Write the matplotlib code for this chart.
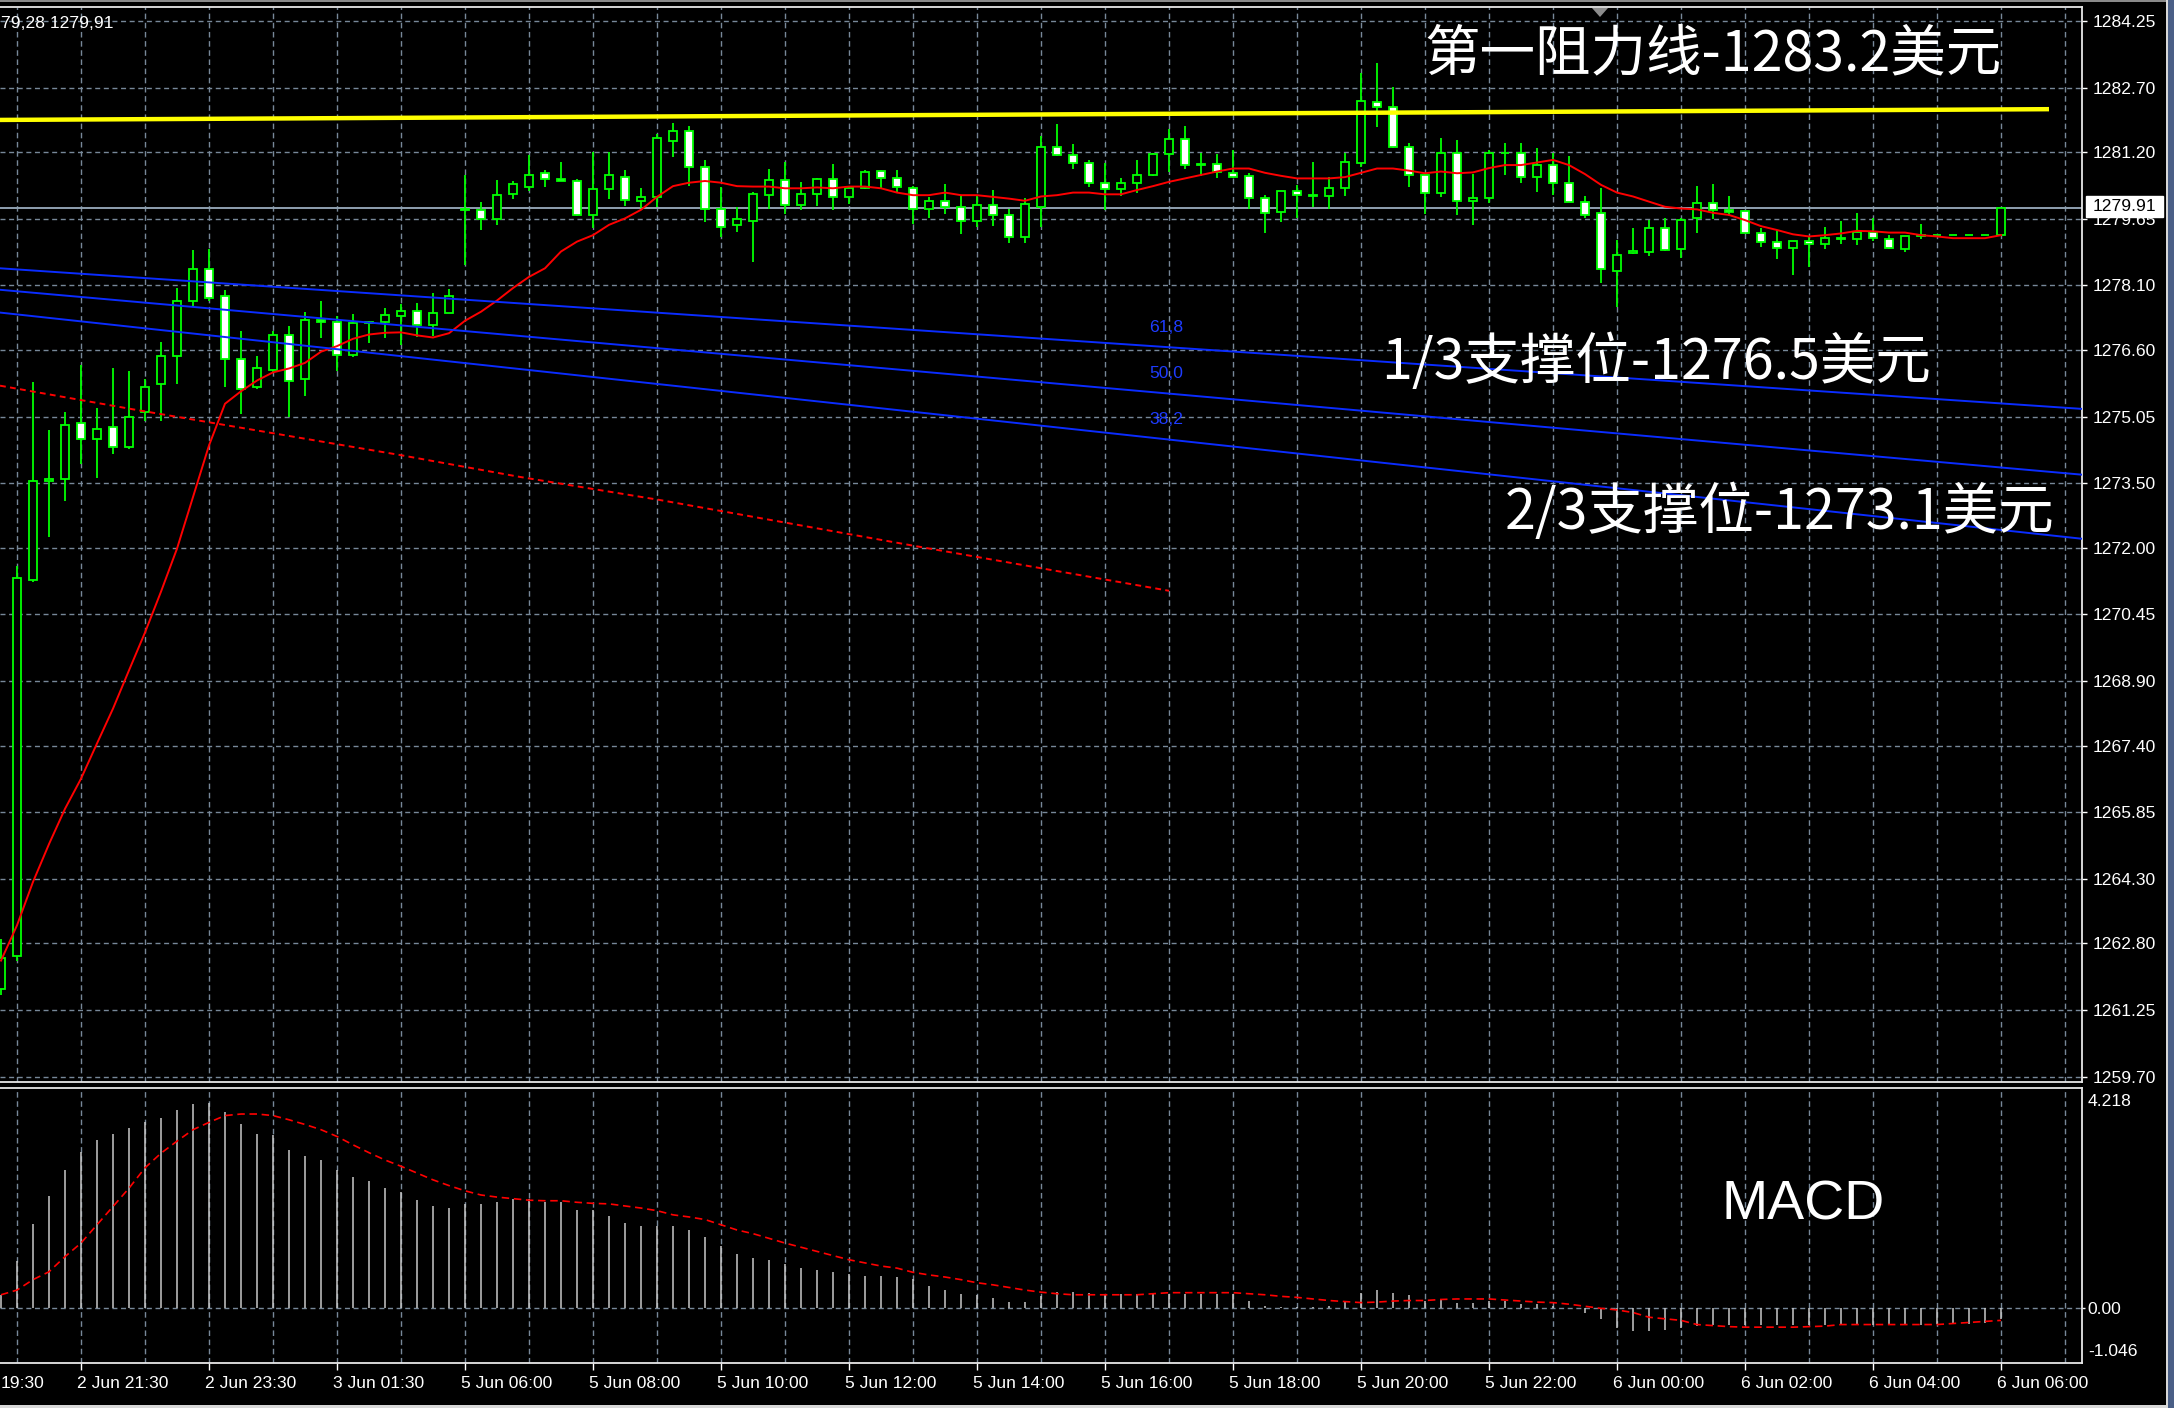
import matplotlib
matplotlib.use('Agg')
import matplotlib.pyplot as plt
from matplotlib.patches import Rectangle, Polygon
from matplotlib.transforms import blended_transform_factory

W, H, DPI = 2174, 1408, 100

# ---------------- data ----------------
bar_index = list(range(-1, 125))
opens = [1261.73, 1262.50, 1271.26, 1273.55, 1273.60, 1274.91, 1274.53, 1274.81, 1274.34, 1275.16,
         1275.80, 1276.45, 1277.73, 1278.49, 1277.85, 1276.40, 1275.73, 1276.14, 1276.96, 1275.93,
         1277.30, 1277.24, 1276.48, 1277.22, 1277.24, 1277.38, 1277.51, 1277.17, 1277.47, 1279.85,
         1279.86, 1279.65, 1280.22, 1280.40, 1280.72, 1280.58, 1280.54, 1279.74, 1280.35, 1280.63,
         1280.07, 1280.15, 1281.46, 1281.70, 1280.86, 1279.88, 1279.51, 1279.61, 1280.20, 1280.55,
         1279.97, 1280.22, 1280.58, 1280.15, 1280.36, 1280.77, 1280.61, 1280.36, 1279.87, 1280.07,
         1279.93, 1279.61, 1279.97, 1279.74, 1279.23, 1279.93, 1281.33, 1281.13, 1280.94, 1280.49,
         1280.34, 1280.49, 1280.67, 1281.15, 1281.51, 1280.90, 1280.92, 1280.71, 1280.65, 1280.13,
         1279.82, 1280.29, 1280.21, 1280.17, 1280.36, 1280.95, 1282.37, 1282.24, 1281.31, 1280.67,
         1280.24, 1281.19, 1280.07, 1280.13, 1281.19, 1281.17, 1280.63, 1280.90, 1280.48, 1280.03,
         1279.79, 1278.44, 1278.85, 1278.89, 1279.43, 1278.94, 1279.66, 1280.01, 1279.85, 1279.83,
         1279.33, 1279.10, 1278.97, 1279.14, 1279.06, 1279.20, 1279.18, 1279.35, 1279.18, 1278.95,
         1279.24, 1279.28, 1279.28, 1279.28, 1279.28, 1279.28]
highs = [1262.91, 1271.57, 1275.85, 1274.73, 1275.16, 1276.24, 1275.24, 1276.17, 1276.12, 1275.93,
         1276.78, 1278.04, 1278.93, 1278.95, 1278.00, 1277.05, 1276.46, 1277.05, 1277.15, 1277.49,
         1277.75, 1277.38, 1277.43, 1277.27, 1277.57, 1277.66, 1277.69, 1277.93, 1278.02, 1280.67,
         1280.03, 1280.56, 1280.53, 1281.13, 1280.79, 1280.98, 1280.58, 1281.21, 1281.20, 1280.79,
         1280.36, 1281.62, 1281.89, 1281.81, 1281.01, 1280.40, 1279.92, 1280.27, 1280.82, 1280.96,
         1280.51, 1280.60, 1280.92, 1280.38, 1280.79, 1280.79, 1280.79, 1280.41, 1280.16, 1280.45,
         1280.19, 1280.20, 1280.32, 1279.89, 1280.13, 1281.58, 1281.86, 1281.39, 1281.02, 1280.94,
         1280.59, 1281.02, 1281.19, 1281.73, 1281.81, 1281.19, 1281.16, 1281.24, 1280.72, 1280.20,
         1280.30, 1280.44, 1280.96, 1280.63, 1281.19, 1283.05, 1283.28, 1282.72, 1281.42, 1280.70,
         1281.52, 1281.48, 1280.69, 1281.25, 1281.42, 1281.42, 1281.29, 1281.17, 1281.10, 1280.18,
         1280.36, 1279.16, 1279.43, 1279.62, 1279.66, 1279.66, 1280.41, 1280.46, 1280.18, 1279.85,
         1279.43, 1279.39, 1279.14, 1279.22, 1279.47, 1279.61, 1279.79, 1279.66, 1279.27, 1279.24,
         1279.53, 1279.28, 1279.28, 1279.28, 1279.28, 1279.91]
lows = [1261.60, 1262.40, 1271.20, 1272.24, 1273.08, 1273.94, 1273.62, 1274.19, 1274.30, 1274.95,
        1274.95, 1275.82, 1277.60, 1277.75, 1275.73, 1275.11, 1275.69, 1276.08, 1275.05, 1275.54,
        1276.89, 1276.10, 1276.43, 1276.76, 1276.88, 1276.71, 1276.90, 1276.93, 1277.45, 1278.58,
        1279.40, 1279.51, 1280.12, 1280.30, 1280.38, 1280.53, 1279.72, 1279.44, 1280.10, 1279.95,
        1279.91, 1279.93, 1281.08, 1280.42, 1279.58, 1279.23, 1279.35, 1278.65, 1279.87, 1279.76,
        1279.85, 1279.95, 1279.85, 1279.99, 1280.34, 1280.36, 1280.28, 1279.53, 1279.68, 1279.76,
        1279.30, 1279.45, 1279.49, 1279.08, 1279.08, 1279.47, 1281.10, 1280.80, 1280.38, 1279.85,
        1280.17, 1280.24, 1280.64, 1280.75, 1280.80, 1280.65, 1280.61, 1280.60, 1279.87, 1279.31,
        1279.58, 1279.66, 1279.93, 1279.87, 1280.18, 1280.85, 1281.78, 1281.30, 1280.40, 1279.76,
        1280.15, 1279.74, 1279.51, 1280.01, 1280.67, 1280.48, 1280.28, 1280.21, 1280.03, 1279.66,
        1278.15, 1277.61, 1278.84, 1278.79, 1278.90, 1278.73, 1279.31, 1279.64, 1279.71, 1279.31,
        1278.99, 1278.71, 1278.34, 1278.54, 1278.94, 1279.06, 1279.04, 1279.14, 1278.94, 1278.89,
        1279.17, 1279.28, 1279.28, 1279.28, 1279.28, 1279.28]
closes = [1262.47, 1271.29, 1273.56, 1273.60, 1274.86, 1274.53, 1274.76, 1274.34, 1275.03, 1275.74,
          1276.45, 1277.73, 1278.49, 1277.80, 1276.40, 1275.70, 1276.17, 1276.96, 1275.89, 1277.30,
          1277.24, 1276.48, 1277.22, 1277.24, 1277.42, 1277.51, 1277.17, 1277.47, 1277.85, 1279.88,
          1279.65, 1280.20, 1280.45, 1280.67, 1280.58, 1280.54, 1279.74, 1280.35, 1280.67, 1280.09,
          1280.16, 1281.52, 1281.69, 1280.85, 1279.88, 1279.45, 1279.65, 1280.22, 1280.55, 1279.97,
          1280.22, 1280.58, 1280.15, 1280.36, 1280.74, 1280.61, 1280.38, 1279.87, 1280.07, 1279.93,
          1279.61, 1279.97, 1279.74, 1279.23, 1279.99, 1281.33, 1281.13, 1280.94, 1280.49, 1280.34,
          1280.49, 1280.67, 1281.15, 1281.51, 1280.90, 1280.92, 1280.75, 1280.63, 1280.13, 1279.79,
          1280.30, 1280.21, 1280.19, 1280.36, 1280.96, 1282.40, 1282.26, 1281.31, 1280.67, 1280.24,
          1281.19, 1280.07, 1280.13, 1281.19, 1281.17, 1280.63, 1280.90, 1280.48, 1280.03, 1279.74,
          1278.48, 1278.81, 1278.90, 1279.43, 1278.93, 1279.62, 1280.01, 1279.85, 1279.82, 1279.33,
          1279.10, 1278.97, 1279.14, 1279.06, 1279.20, 1279.18, 1279.35, 1279.20, 1278.96, 1279.24,
          1279.27, 1279.28, 1279.28, 1279.28, 1279.28, 1279.91]

ma_fast = [1262.40, 1263.22, 1264.23, 1265.11, 1265.93, 1266.63, 1267.45, 1268.26, 1269.15, 1270.03,
           1270.98, 1271.98, 1273.18, 1274.38, 1275.35, 1275.64, 1275.89, 1276.08, 1276.17, 1276.30,
           1276.56, 1276.69, 1276.86, 1276.96, 1277.00, 1277.01, 1276.94, 1276.89, 1276.99, 1277.28,
           1277.49, 1277.75, 1278.04, 1278.30, 1278.50, 1278.89, 1279.12, 1279.27, 1279.51, 1279.66,
           1279.86, 1280.16, 1280.41, 1280.49, 1280.53, 1280.49, 1280.41, 1280.40, 1280.40, 1280.36,
           1280.36, 1280.38, 1280.36, 1280.40, 1280.40, 1280.36, 1280.26, 1280.20, 1280.20, 1280.26,
           1280.20, 1280.20, 1280.16, 1280.12, 1280.07, 1280.17, 1280.20, 1280.26, 1280.26, 1280.22,
           1280.22, 1280.32, 1280.41, 1280.51, 1280.59, 1280.67, 1280.75, 1280.82, 1280.82, 1280.72,
           1280.65, 1280.59, 1280.59, 1280.59, 1280.62, 1280.72, 1280.82, 1280.82, 1280.77, 1280.71,
           1280.75, 1280.71, 1280.73, 1280.83, 1280.90, 1280.90, 1280.96, 1281.02, 1280.90, 1280.69,
           1280.44, 1280.26, 1280.17, 1280.05, 1279.93, 1279.89, 1279.87, 1279.79, 1279.74, 1279.62,
           1279.48, 1279.39, 1279.29, 1279.24, 1279.27, 1279.31, 1279.37, 1279.36, 1279.33, 1279.33,
           1279.27, 1279.24, 1279.20, 1279.20, 1279.20, 1279.27]

ma_slow_bars = [-1.06, 7.25, 15.6, 23.9, 31.4, 40.2, 56.0, 72.0]
ma_slow_vals = [1275.77, 1275.22, 1274.69, 1274.16, 1273.65, 1273.11, 1272.05, 1271.00]

fib_bars = [-1.0625, 129.0625]
fib_618 = [1278.50, 1275.23]
fib_500 = [1278.00, 1273.70]
fib_382 = [1277.47, 1272.21]

res_bars = [-1.0625, 127.0]
res_vals = [1281.95, 1282.20]

bid_price = 1279.91

price_ticks = [1284.25, 1282.70, 1281.20, 1279.65, 1278.10, 1276.60, 1275.05, 1273.50, 1272.00,
               1270.45, 1268.90, 1267.40, 1265.85, 1264.30, 1262.80, 1261.25, 1259.70]
price_tick_labels = ['%.2f' % p for p in price_ticks]

time_label_bars = [4, 12, 20, 28, 36, 44, 52, 60, 68, 76, 84, 92, 100, 108, 116, 124]
time_labels = ['2 Jun 21:30', '2 Jun 23:30', '3 Jun 01:30', '5 Jun 06:00',
               '5 Jun 08:00', '5 Jun 10:00', '5 Jun 12:00', '5 Jun 14:00', '5 Jun 16:00',
               '5 Jun 18:00', '5 Jun 20:00', '5 Jun 22:00', '6 Jun 00:00', '6 Jun 02:00',
               '6 Jun 04:00', '6 Jun 06:00']
first_label_visible = '19:30'
header_visible = '79,28 1279,91'

macd_hist = [0.26, 0.90, 1.62, 2.16, 2.65, 3.00, 3.23, 3.34, 3.46, 3.57,
             3.64, 3.80, 3.92, 3.94, 3.76, 3.53, 3.34, 3.32, 3.04, 2.92,
             2.84, 2.65, 2.52, 2.43, 2.31, 2.23, 2.08, 1.96, 1.93, 2.00,
             2.00, 2.04, 2.09, 2.09, 2.04, 2.04, 1.89, 1.88, 1.77, 1.64,
             1.58, 1.58, 1.58, 1.50, 1.36, 1.20, 1.04, 0.96, 0.92, 0.85,
             0.78, 0.74, 0.69, 0.66, 0.62, 0.62, 0.60, 0.56, 0.43, 0.35,
             0.28, 0.26, 0.20, 0.13, 0.13, 0.23, 0.32, 0.32, 0.30, 0.27,
             0.27, 0.27, 0.27, 0.27, 0.27, 0.27, 0.27, 0.27, 0.15, 0.05,
             0.03, 0.02, 0.02, 0.05, 0.12, 0.30, 0.35, 0.30, 0.25, 0.15,
             0.18, 0.10, 0.10, 0.15, 0.15, 0.08, 0.08, 0.05, 0.00, -0.08,
             -0.20, -0.38, -0.43, -0.44, -0.42, -0.38, -0.34, -0.32, -0.31, -0.31,
             -0.31, -0.31, -0.31, -0.31, -0.31, -0.31, -0.31, -0.31, -0.31, -0.31,
             -0.31, -0.30, -0.30, -0.29, -0.28, -0.20]
macd_signal = [0.26, 0.35, 0.55, 0.70, 0.99, 1.25, 1.60, 1.95, 2.30, 2.69,
               2.97, 3.20, 3.42, 3.56, 3.69, 3.72, 3.72, 3.69, 3.61, 3.52,
               3.42, 3.29, 3.13, 2.98, 2.84, 2.72, 2.59, 2.46, 2.35, 2.25,
               2.17, 2.13, 2.10, 2.07, 2.06, 2.06, 2.03, 2.01, 2.00, 1.96,
               1.92, 1.87, 1.79, 1.75, 1.70, 1.60, 1.50, 1.43, 1.34, 1.25,
               1.17, 1.09, 1.01, 0.93, 0.87, 0.81, 0.77, 0.69, 0.64, 0.60,
               0.55, 0.49, 0.45, 0.40, 0.35, 0.31, 0.28, 0.26, 0.26, 0.26,
               0.26, 0.26, 0.28, 0.30, 0.30, 0.30, 0.30, 0.30, 0.28, 0.26,
               0.23, 0.21, 0.18, 0.15, 0.13, 0.11, 0.12, 0.14, 0.15, 0.15,
               0.17, 0.18, 0.18, 0.18, 0.16, 0.14, 0.12, 0.11, 0.08, 0.04,
               0.00, -0.03, -0.08, -0.17, -0.20, -0.23, -0.31, -0.33, -0.35, -0.36,
               -0.36, -0.36, -0.36, -0.35, -0.34, -0.31, -0.31, -0.31, -0.31, -0.31,
               -0.31, -0.31, -0.29, -0.27, -0.25, -0.23]

# ---------------- style ----------------
GRID = '#778899'
GREEN = '#00ff00'
FRAME = '#e8e8e8'
LBL_FONT = ['Liberation Sans', 'DejaVu Sans']
CJK_FONT = ['Noto Sans CJK SC', 'DejaVu Sans']
plt.rcParams['font.family'] = LBL_FONT


def fx(x):
    return x / W


def fy(y):
    return 1 - y / H


fig = plt.figure(figsize=(W / DPI, H / DPI), dpi=DPI, facecolor='black')
ax = fig.add_axes([0, fy(1082), fx(2082), (1082 - 7) / H], facecolor='black')
ax2 = fig.add_axes([0, fy(1363), fx(2082), (1363 - 1088) / H], facecolor='black')

xmin, xmax = -17 / 16, (2082 - 17) / 16
for a in (ax, ax2):
    a.set_xlim(xmin, xmax)
    for s in ('top', 'right', 'bottom'):
        a.spines[s].set_color(FRAME)
        a.spines[s].set_linewidth(1.3)
    a.spines['left'].set_visible(False)
    for j in range(0, 129, 4):
        a.axvline(j, color=GRID, lw=1.0, ls=(0, (4, 2.6)), zorder=0.5)
ax.set_ylim(1259.577, 1284.576)
ax2.set_ylim(-1.046, 4.218)

for p in price_ticks:
    ax.axhline(p, color=GRID, lw=1.0, ls=(0, (3.6, 2.6)), zorder=0.5)
ax2.axhline(0, color=GRID, lw=1.0, ls=(0, (3.6, 2.6)), zorder=0.5)

# main axis ticks
ax.yaxis.tick_right()
ax.set_yticks(price_ticks)
ax.set_yticklabels(price_tick_labels)
ax.tick_params(axis='y', colors='white', length=3.6, width=1, pad=4.3, labelsize=12.6)
ax.tick_params(axis='x', bottom=False, labelbottom=False)

# macd axis ticks
ax2.yaxis.tick_right()
ax2.set_yticks([0.0])
ax2.set_yticklabels(['0.00'])
ax2.tick_params(axis='y', colors='white', length=2.5, width=1, pad=1.5, labelsize=12.6)
ax2.set_xticks(time_label_bars)
ax2.tick_params(axis='x', colors='white', length=5, width=1, direction='out', labelbottom=False)

# ---------------- price panel ----------------
bw = 0.28
for j, o, h, l, c in zip(bar_index, opens, highs, lows, closes):
    ax.vlines(j, l, h, color=GREEN, lw=1.3, zorder=2)
    bull = c >= o
    ax.add_patch(Rectangle((j - bw, min(o, c)), 2 * bw, abs(c - o),
                           facecolor='black' if bull else 'white',
                           edgecolor=GREEN, lw=1.3, zorder=3))

ax.plot(bar_index, ma_fast, color='#ff0000', lw=1.4, zorder=4)
ax.plot(ma_slow_bars, ma_slow_vals, color='#ff0000', lw=1.4, ls=(0, (3, 2.2)), zorder=4)
for vals in (fib_618, fib_500, fib_382):
    ax.plot(fib_bars, vals, color='#0a2cff', lw=1.4, zorder=4)
ax.plot(res_bars, res_vals, color='#ffff00', lw=3.2, solid_capstyle='butt', zorder=5)
ax.axhline(bid_price, color='#8fa0b0', lw=1.4, zorder=1.5)

# fib level labels
for txt, y in (('61,8', 327.7), ('50,0', 373.3), ('38,2', 419.3)):
    fig.text(fx(1149), fy(y), txt, color='#1e3cff', fontsize=12.6, ha='left', va='center')

# ---------------- macd panel ----------------
ax2.vlines(bar_index, 0, macd_hist, color='#c8c8c8', lw=1.1, zorder=2)
ax2.plot(bar_index, macd_signal, color='#ff0000', lw=1.2, ls=(0, (4.5, 2.8)), zorder=3)

# time labels
trans = blended_transform_factory(ax2.transData, ax2.transAxes)
ylab = (1363 - 1383) / 275
for j, lab in zip(time_label_bars, time_labels):
    ax2.text(j - 0.25, ylab, lab, transform=trans, color='white',
             fontsize=12.6, ha='left', va='center', clip_on=False)
fig.text(fx(1), fy(1383), first_label_visible, color='white', fontsize=12.6, ha='left', va='center')

# macd scale labels
fig.text(fx(2088), fy(1101.7), '4.218', color='white', fontsize=12.6, ha='left', va='center')
fig.text(fx(2088), fy(1351.7), '-1.046', color='white', fontsize=12.6, ha='left', va='center')

# header info text
fig.text(fx(1), fy(23), header_visible, color='white', fontsize=12.6, ha='left', va='center')

# bid price label box
fig.patches.append(Rectangle((fx(2086), fy(217)), 77 / W, 21 / H, transform=fig.transFigure,
                             facecolor='white', edgecolor='white', zorder=5))
fig.text(fx(2093), fy(206.5), '%.2f' % bid_price, color='black', fontsize=12.6,
         ha='left', va='center', zorder=6)

# shift marker triangle
fig.patches.append(Polygon([(fx(1592), fy(8)), (fx(1608), fy(8)), (fx(1600), fy(17))],
                           closed=True, transform=fig.transFigure, facecolor='#8c8c8c',
                           edgecolor='none', zorder=5))

# annotations
fig.text(fx(1424), fy(55), '第一阻力线-1283.2美元', color='white', fontsize=40,
         family=CJK_FONT, fontweight='light', ha='left', va='center', zorder=6)
fig.text(fx(1381), fy(363), '1/3支撑位-1276.5美元', color='white', fontsize=40,
         family=CJK_FONT, fontweight='light', ha='left', va='center', zorder=6)
fig.text(fx(1505), fy(513), '2/3支撑位-1273.1美元', color='white', fontsize=40,
         family=CJK_FONT, fontweight='light', ha='left', va='center', zorder=6)
fig.text(fx(1722), fy(1206), 'MACD', color='white', fontsize=40,
         family=LBL_FONT, ha='left', va='center', zorder=6)

# window frame pieces
fig.patches.append(Rectangle((0, fy(2)), 1, 2 / H, transform=fig.transFigure,
                             facecolor='#8a8a8a', edgecolor='none', zorder=4))
fig.patches.append(Rectangle((fx(2166), 0), 2 / W, 1, transform=fig.transFigure,
                             facecolor='#d8d8d8', edgecolor='none', zorder=4))
fig.patches.append(Rectangle((fx(2168), 0), 6 / W, 1, transform=fig.transFigure,
                             facecolor='#4a5f86', edgecolor='none', zorder=4))
fig.patches.append(Rectangle((0, 0), fx(2166), 3 / H, transform=fig.transFigure,
                             facecolor='#d8d8d8', edgecolor='none', zorder=4))

fig.savefig('out.png', dpi=DPI, facecolor='black')
